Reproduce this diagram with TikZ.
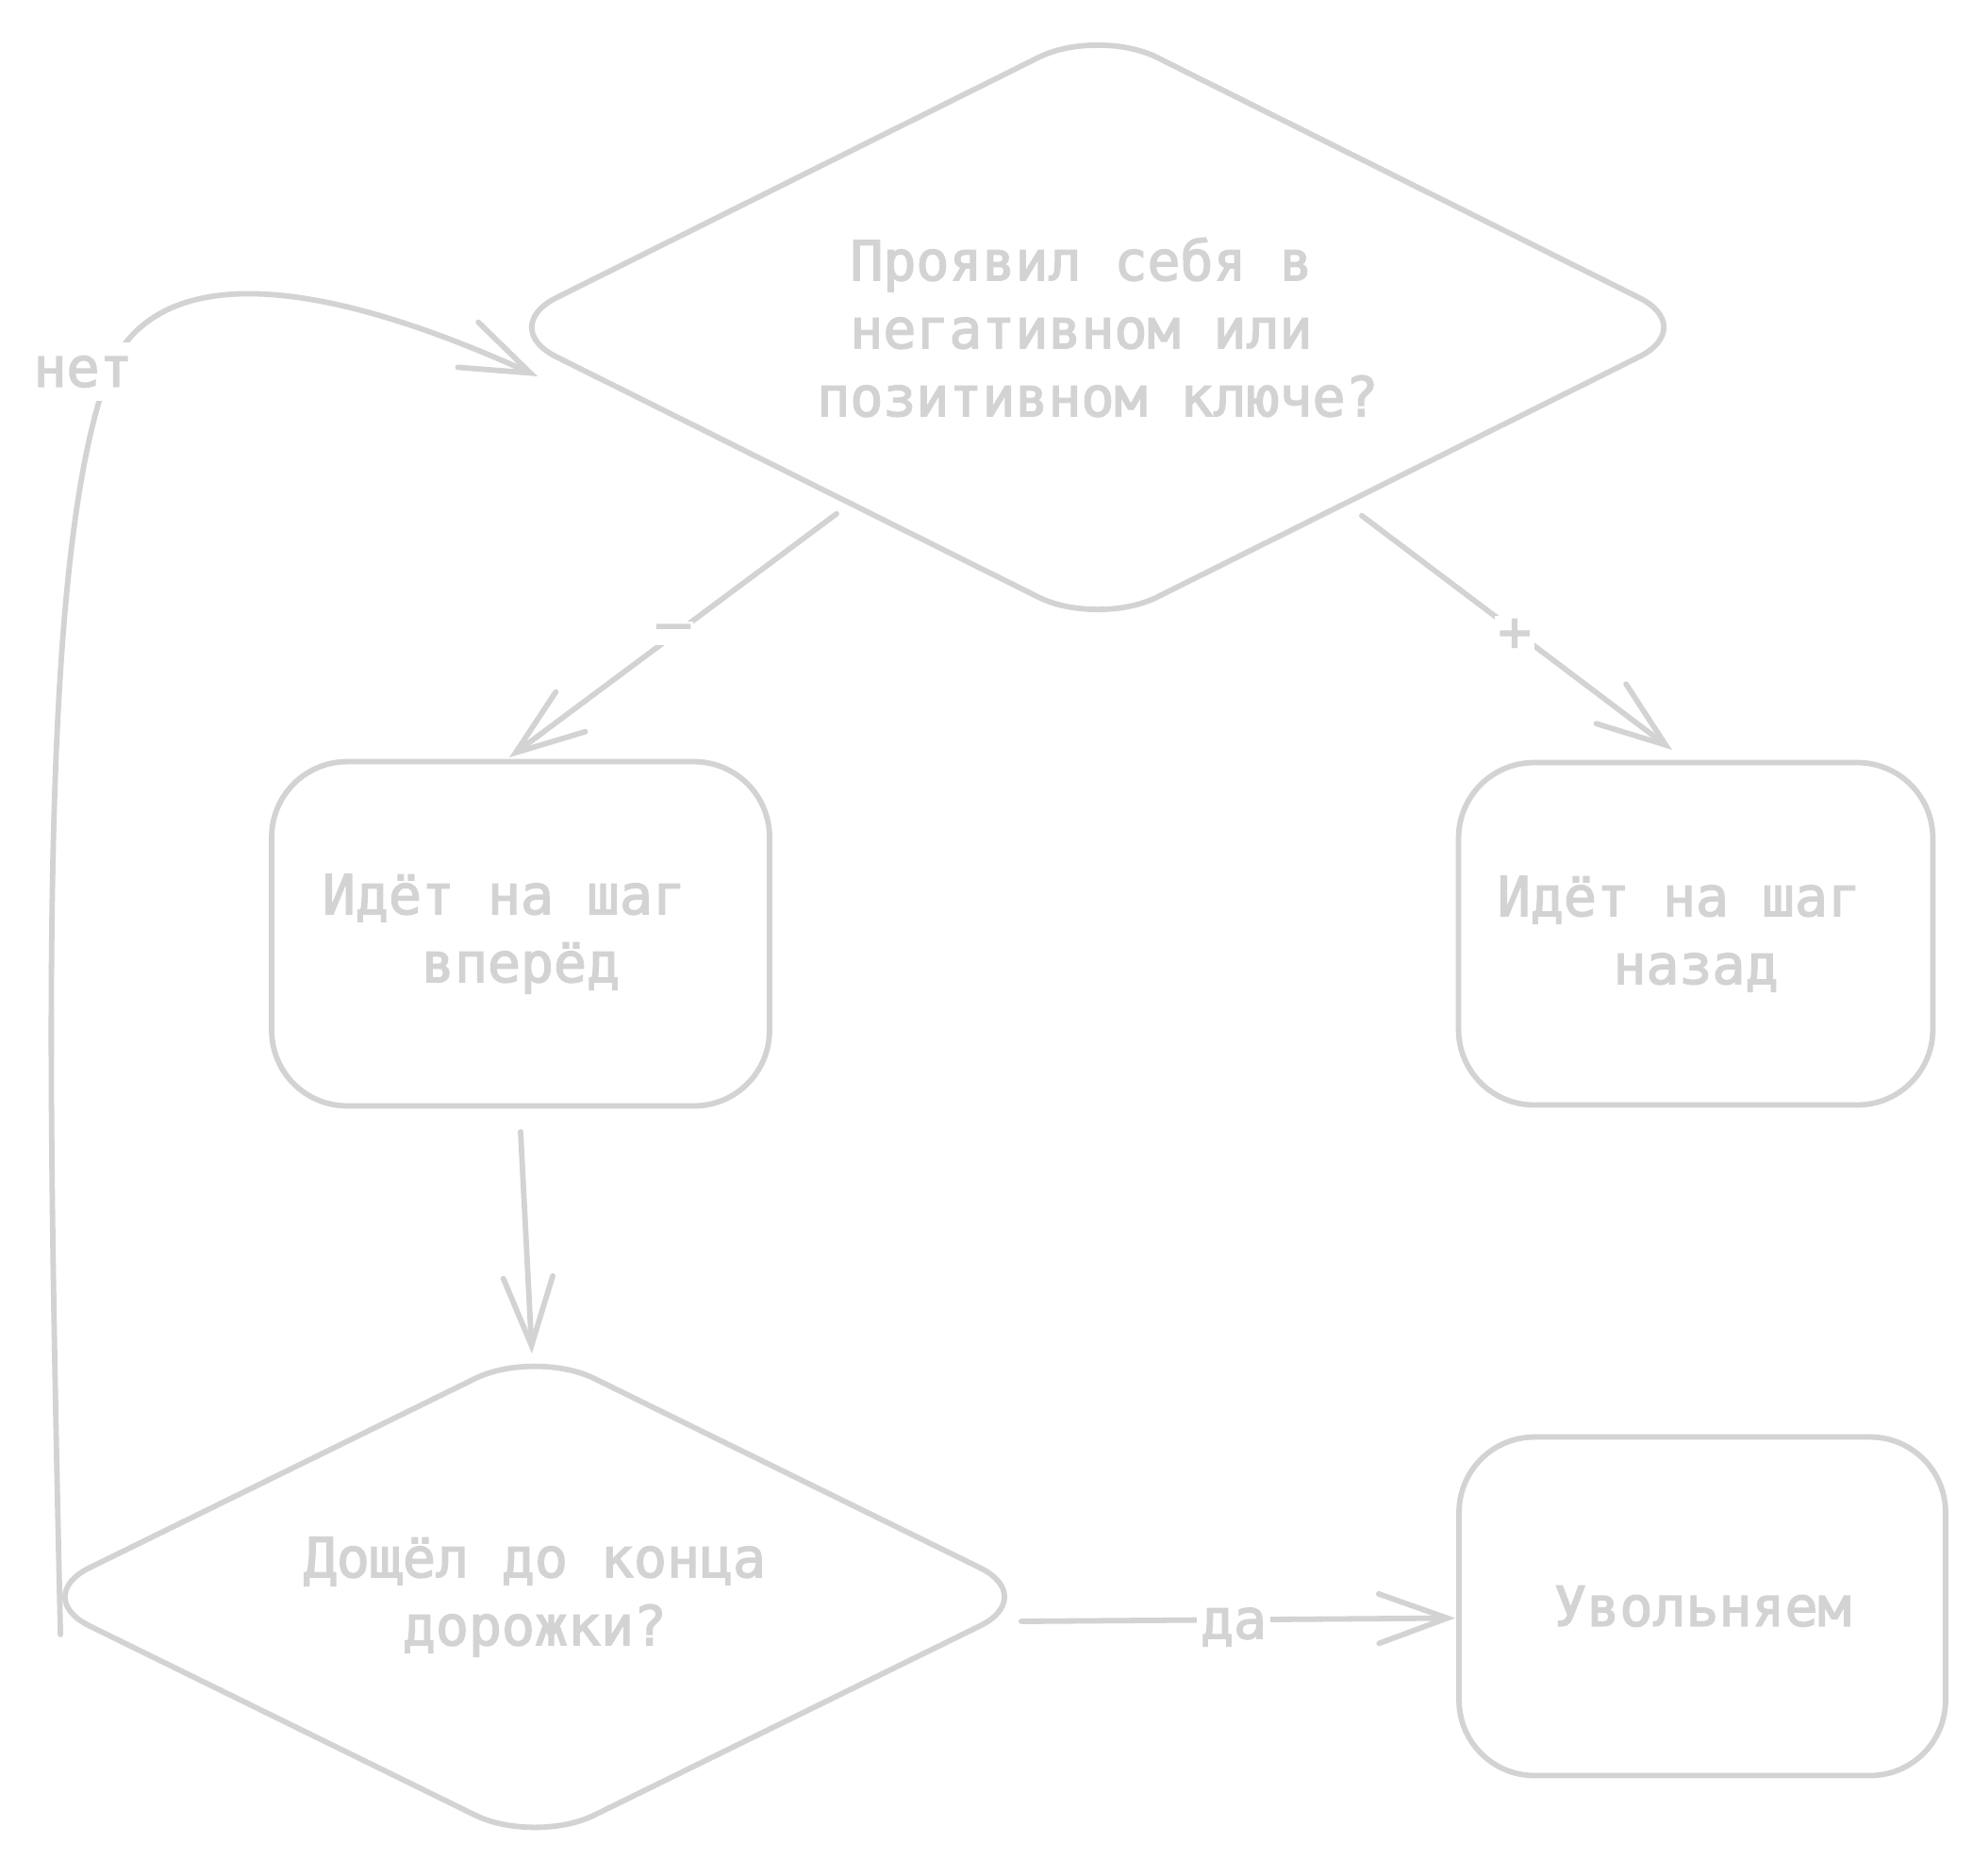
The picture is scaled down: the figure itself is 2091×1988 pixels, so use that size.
\documentclass[tikz,border=0pt]{standalone}
\usepackage{fontspec}
\newfontfamily\dmono[FakeBold=2.5]{DejaVu Sans Mono}
\usetikzlibrary{shapes.geometric,arrows.meta}
\definecolor{ink}{RGB}{211,211,211}
\begin{document}
\begin{tikzpicture}[x=0.02cm,y=-0.02cm,
  every node/.style={font=\dmono\fontsize{33.1}{41}\selectfont, text=ink, outer sep=0pt},
  shapeline/.style={draw=ink, line width=3.3pt},
  dia/.style={shapeline, diamond, aspect=2, inner sep=0pt, rounded corners=1.4cm, align=center},
  roundbox/.style={shapeline, rectangle, rounded corners=1.6cm, inner sep=0pt, align=center},
  conn/.style={draw=ink, line width=3.3pt, line cap=round,
    -{Straight Barb[length=1.45cm, width=1.05cm, line cap=round]}},
  lbl/.style={fill=white, inner sep=2pt}
]
\useasboundingbox (0,0) rectangle (2091,1988);

% shapes
\node[dia, minimum width=25.48cm, minimum height=12.7cm] (q1) at (1164,347)
  {Проявил себя в\hphantom{x}\\негативном или\hphantom{x}\\позитивном ключе?};
\node[roundbox, minimum width=10.56cm, minimum height=7.3cm] (b1) at (552,990)
  {Идёт на шаг\hphantom{x}\\вперёд};
\node[roundbox, minimum width=10.06cm, minimum height=7.26cm] (b2) at (1798,990)
  {Идёт на шаг\hphantom{x}\\назад};
\node[dia, minimum width=21.4cm, minimum height=10.5cm] (q2) at (567,1693)
  {Дощёл до конца\\дорожки?};
\node[roundbox, minimum width=10.32cm, minimum height=7.18cm] (b3) at (1805,1703)
  {Увольняем};

% connectors
\draw[conn] ([xshift=0.83cm,yshift=-0.78cm]q1.south west) -- ([xshift=-0.24cm,yshift=0.09cm]b1.north);
\node[lbl] (lminus) at (714,671) {–};

\draw[conn] ([xshift=-0.77cm,yshift=-0.82cm]q1.south east) -- ([xshift=-0.5cm,yshift=0.27cm]b2.north);
\node[lbl] (lplus) at (1606,673) {+};

\draw[conn] ([yshift=-0.55cm]b1.south) -- ([xshift=-0.06cm,yshift=-0.09cm]q2.north);

\draw[conn] ([xshift=-0.38cm,yshift=-0.52cm]q2.east) -- ([xshift=-0.08cm,yshift=-0.25cm]b3.west);
\node[lbl] (lyes) at (1308,1725) {да};

\coordinate (nomid) at (118,388);
\draw[conn] ([xshift=0.64cm,yshift=-0.8cm]q2.west) .. controls (50,1100) and (40,580) .. (nomid)
  .. controls (170,280) and (330,290) .. ([xshift=0.86cm,yshift=-1.04cm]q1.west);
\node[lbl, inner ysep=8pt] (lno) at (88,394) {нет};
\end{tikzpicture}
\end{document}
